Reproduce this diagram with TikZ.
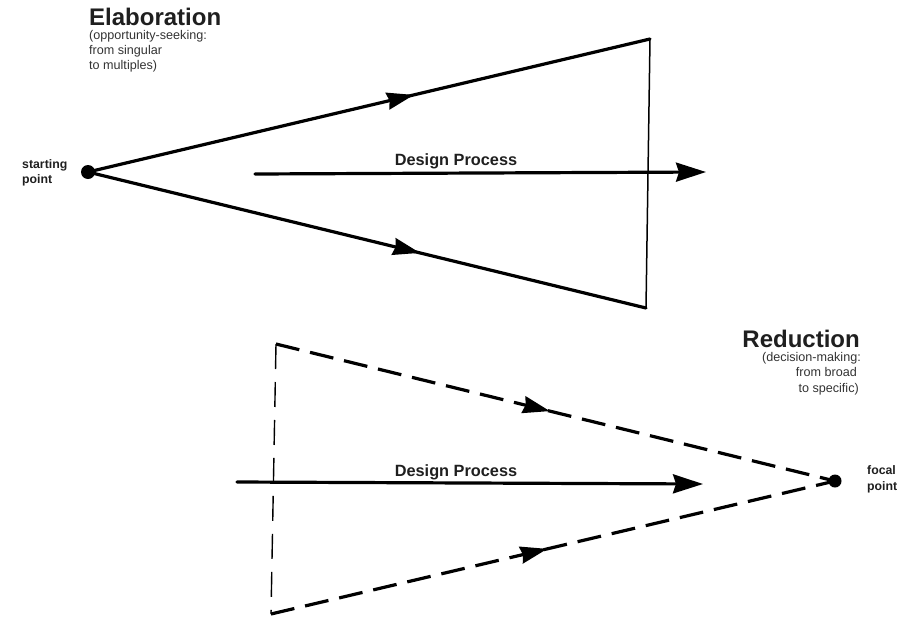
\documentclass[tikz,border=0pt]{standalone}
\usepackage{fontspec}
\setmainfont{Liberation Sans}
\usetikzlibrary{arrows.meta,decorations.markings}
\begin{document}
\begin{tikzpicture}[x=1pt,y=-1pt,
  thick line/.style={line width=3.2pt, line cap=round},
  thin line/.style={line width=1.5pt},
  dash line/.style={line width=3.2pt, dash pattern=on 24pt off 11pt},
  thin dash/.style={line width=1.4pt, dash pattern=on 25pt off 13pt},
  bigtip/.style={-{Stealth[length=30pt,width=19pt,inset=3pt]}},
  midtip/.style={postaction={decorate},decoration={markings,
     mark=at position #1 with {\arrow{Stealth[length=27pt,width=17pt,inset=2pt]}}}},
  dot/.style={circle, fill=black, inner sep=0pt, minimum size=14pt},
  heading/.style={font=\bfseries\fontsize{24}{26}\selectfont, inner sep=0pt, text=black!88},
  sub/.style={font=\fontsize{12.6}{15.5}\selectfont, inner sep=0pt, text=black!80},
  small/.style={font=\bfseries\fontsize{12.3}{15.5}\selectfont, inner sep=0pt, text=black!88},
  proc/.style={font=\bfseries\fontsize{16.3}{18}\selectfont, inner sep=0pt, text=black!88}]
\useasboundingbox (0,0) rectangle (908,619);

% ---------- Elaboration ----------
\node[dot] (start) at (88,172) {};
\coordinate (tr) at (650,39);
\coordinate (br) at (646,308);
\draw[thick line, midtip=0.58] (start.center) -- (tr);
\draw[thick line, midtip=0.595] (start.center) -- (br);
\draw[thin line] (tr) -- (br);
\coordinate (p1a) at (255,174);
\coordinate (p1b) at (706,172);
\draw[thick line, bigtip] (p1a) -- (p1b);
\node[proc, anchor=base] (dp1) at (456,165) {Design Process};

\node[heading, anchor=base west] (elab) at (89,25) {Elaboration};
\node[sub, anchor=base west] (el1) at (89,39) {(opportunity-seeking:};
\node[sub, anchor=base west] (el2) at (89,54) {from singular};
\node[sub, anchor=base west] (el3) at (89,69) {to multiples)};
\node[small, anchor=base west] (st1) at (22,168) {starting};
\node[small, anchor=base west] (st2) at (22,183) {point};

% ---------- Reduction ----------
\node[dot, minimum size=13pt] (focal) at (835,481) {};
\coordinate (tl) at (276,344);
\coordinate (bl) at (271,614);
\draw[dash line, midtip=0.49] (tl) -- (focal.center);
\draw[dash line, midtip=0.49] (bl) -- (focal.center);
\draw[thin dash] (tl) -- (bl);
\coordinate (p2a) at (237,482);
\coordinate (p2b) at (703,484);
\draw[thick line, bigtip] (p2a) -- (p2b);
\node[proc, anchor=base] (dp2) at (456,476) {Design Process};

\node[heading, anchor=base east] (red) at (860,347) {Reduction};
\node[sub, anchor=base east] (rd1) at (861,361) {(decision-making:};
\node[sub, anchor=base east] (rd2) at (857,376) {from broad};
\node[sub, anchor=base east] (rd3) at (859,392) {to specific)};
\node[small, anchor=base west] (fo1) at (867,474) {focal};
\node[small, anchor=base west] (fo2) at (867,490) {point};
\end{tikzpicture}
\end{document}
